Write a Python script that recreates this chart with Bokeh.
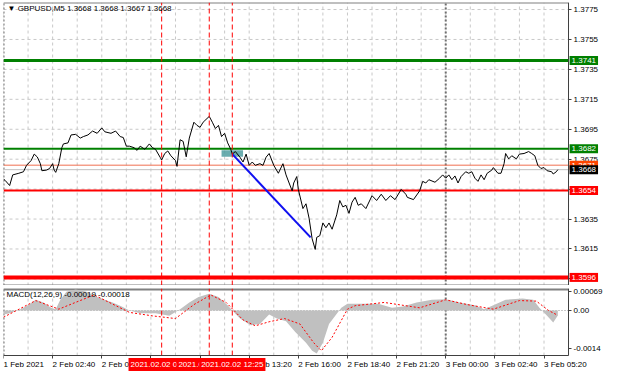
from bokeh.plotting import figure
from bokeh.layouts import column
from bokeh.models import Range1d, Label, FixedTicker, PrintfTickFormatter, LinearAxis
from bokeh.embed import file_html
from bokeh.resources import INLINE

FONT = "Liberation Sans"

# ---------------- data ----------------
title_text = "\u25bc GBPUSD,M5  1.3668 1.3668 1.3667 1.3668"
macd_text = "MACD(12,26,9) -0.00019 -0.00018"

price_bars = [0, 1, 4, 6, 10, 13, 15, 18, 20, 22,
              24, 25, 28, 30, 32, 33, 34, 36, 38, 39,
              42, 44, 47, 50, 52, 55, 58, 61, 64, 66,
              70, 73, 76, 78, 80, 82, 85, 87, 89, 92,
              95, 97, 99, 102, 103, 105, 107, 109, 112, 113,
              115, 117, 119, 121, 124, 126, 128, 130, 134, 136,
              138, 140, 142, 144, 146, 148, 149, 151, 154, 156,
              158, 160, 162, 164, 167, 169, 171, 173, 176, 179,
              182, 184, 186, 188, 189, 191, 192, 195, 197, 199,
              201, 203, 204, 206, 208, 210, 212, 214, 217, 219,
              221, 223, 225, 227, 229, 231, 233, 236, 240, 243,
              246, 249, 252, 255, 259, 262, 263, 267, 271, 273,
              275, 277, 281, 284, 286, 288, 290, 292, 294, 296,
              298, 301, 303, 305, 307, 309, 311, 313, 315, 318,
              319, 322, 324, 326, 327, 329, 331, 334, 336, 339,
              342, 344, 346, 348, 350, 352, 354, 357, 358, 360,
              361]
price_close = [1.36617, 1.36609, 1.36574, 1.36645, 1.36656, 1.36666, 1.36709, 1.36741, 1.36784, 1.36765,
               1.36720, 1.36673, 1.36677, 1.36688, 1.36720, 1.36677, 1.36662, 1.36720, 1.36827, 1.36852,
               1.36859, 1.36912, 1.36916, 1.36891, 1.36901, 1.36912, 1.36938, 1.36923, 1.36959, 1.36933,
               1.36923, 1.36938, 1.36901, 1.36895, 1.36837, 1.36837, 1.36827, 1.36809, 1.36837, 1.36816,
               1.36852, 1.36827, 1.36816, 1.36763, 1.36745, 1.36788, 1.36805, 1.36773, 1.36741, 1.36702,
               1.36880, 1.36869, 1.36766, 1.36891, 1.36997, 1.36976, 1.36963, 1.36997, 1.37036, 1.36997,
               1.36955, 1.36976, 1.36901, 1.36923, 1.36859, 1.36816, 1.36784, 1.36801, 1.36763, 1.36731,
               1.36784, 1.36709, 1.36731, 1.36709, 1.36720, 1.36709, 1.36763, 1.36788, 1.36709, 1.36656,
               1.36720, 1.36645, 1.36591, 1.36538, 1.36591, 1.36634, 1.36548, 1.36420, 1.36452, 1.36356,
               1.36218, 1.36147, 1.36228, 1.36239, 1.36324, 1.36292, 1.36324, 1.36282, 1.36378, 1.36474,
               1.36431, 1.36442, 1.36388, 1.36463, 1.36495, 1.36442, 1.36452, 1.36420, 1.36506, 1.36474,
               1.36516, 1.36474, 1.36506, 1.36480, 1.36548, 1.36516, 1.36495, 1.36480, 1.36538, 1.36602,
               1.36591, 1.36613, 1.36596, 1.36623, 1.36645, 1.36623, 1.36645, 1.36613, 1.36638, 1.36591,
               1.36634, 1.36666, 1.36656, 1.36666, 1.36623, 1.36602, 1.36645, 1.36613, 1.36656, 1.36677,
               1.36694, 1.36656, 1.36656, 1.36720, 1.36788, 1.36752, 1.36773, 1.36752, 1.36784, 1.36788,
               1.36801, 1.36788, 1.36773, 1.36709, 1.36688, 1.36694, 1.36673, 1.36666, 1.36651, 1.36666,
               1.36680]

level_prices = [1.3741, 1.3682, 1.3671, 1.3668, 1.3654, 1.3596]

trade_bars = [149, 200]
trade_prices = [1.36784, 1.36228]
zone_bars = [142, 156]
zone_prices = [1.36766, 1.36809]

hist_bars = [0, 4, 11, 16, 21, 26, 31, 34, 37, 41,
             47, 54, 61, 71, 77, 82, 89, 99, 108, 115,
             121, 127, 134, 140, 146, 149, 154, 161, 167, 173,
             178, 184, 190, 197, 201, 204, 208, 212, 220, 224,
             234, 244, 253, 260, 269, 279, 288, 297, 307, 313,
             319, 327, 338, 345, 349, 354, 358, 361]
hist_vals = [-0.00015, -0.0001, 0.00005, 0.0002, 0.0004, 0.0003, 0.0001, 0.00005, 0.0004, 0.0007,
             0.00078, 0.0007, 0.0005, 0.0003, 0.00015, 0.0, -0.0001, -0.0001, -0.0002, 0.00005,
             0.0003, 0.0005, 0.00062, 0.0005, 0.0002, 0.0, -0.0003, -0.00055, -0.0005, -0.00015,
             -0.0003, -0.0004, -0.0008, -0.0012, -0.0015, -0.0016, -0.0012, -0.0005, 0.0001, 0.00025,
             0.00025, 0.00025, 0.0001, 0.00015, 0.0003, 0.0004, 0.00042, 0.0003, 0.0002, 0.00005,
             0.0002, 0.0004, 0.00045, 0.0004, 0.0001, -0.0002, -0.00045, -0.00019]

signal_bars = [0, 21, 36, 59, 82, 97, 112, 124, 135, 145,
               156, 164, 173, 183, 193, 202, 207, 214, 224, 229,
               248, 271, 288, 302, 319, 336, 347, 355, 361]
signal_vals = [-0.00025, 0.00037, 0.00005, 0.00058, -0.00007, -0.0002, -0.0003, 0.00022, 0.00058, 0.0003,
               -0.00035, -0.00057, -0.00042, -0.0003, -0.0005, -0.0012, -0.0015, -0.001, 0.00005, 0.00018,
               0.0003, 0.0001, 0.0004, 0.00022, 0.00005, 0.00037, 0.00035, 0.0, -0.00018]

price_ticks = [1.3595, 1.3615, 1.3635, 1.3655, 1.3675, 1.3695, 1.3715, 1.3735, 1.3755, 1.3775]
macd_ticks = [-0.0014, 0.0, 0.00069]
macd_tick_labels = ["-0.0014", "0.00", "0.00069"]

time_tick_bars = [0, 32, 64, 96, 128, 160, 192, 224, 256, 288, 320, 352]
time_tick_labels = ["1 Feb 2021", "2 Feb 02:40", "2 Feb 05:20", "2 Feb 08:00", "2 Feb 10:40",
                    "2 Feb 13:20", "2 Feb 16:00", "2 Feb 18:40", "2 Feb 21:20", "3 Feb 00:00",
                    "3 Feb 02:40", "3 Feb 05:20"]

marker_bars = [103, 134, 149]
marker_labels = ["2021.02.02 08:35", "2021.02.02 11:10", "2021.02.02 12:25"]
day_bars = [0, 288]

# ---------------- styles / geometry ----------------
level_line_colors = ["#008000", "#008000", "#f07050", "#c0c0c0", "#ff0000", "#ff0000"]
level_line_widths = [3, 2, 1, 1, 2, 4]
level_box_colors = ["#008000", "#008000", "#ff4500", "#000000", "#ff0000", "#ff0000"]

X_MAX = 368            # right edge of the chart area (axis line)
X_VIEW = 391.4         # includes the price-label strip
PRICE_RANGE = (1.35906, 1.37797)
MACD_PANEL = (-0.00168, 0.00082)
MACD_VIEW = (-0.00231, 0.00082)   # includes the time-label strip
GRID_BARS = list(range(0, X_MAX + 1, 16))
GRID_COLOR = "#c8c8c8"
BORDER = "#808080"
AXIS = "#404040"


def style_axis(ax):
    ax.axis_line_color = AXIS
    ax.major_tick_line_color = AXIS
    ax.minor_tick_line_color = None
    ax.major_tick_in = 0
    ax.major_tick_out = 3
    ax.major_label_standoff = 2
    ax.major_label_text_font = FONT
    ax.major_label_text_font_size = "8px"
    ax.major_label_text_color = "#000000"


xr = Range1d(0, X_VIEW)

common = dict(x_range=xr, frame_width=601, min_border_left=3, min_border_right=0,
              min_border_bottom=0, x_axis_location=None, y_axis_location=None,
              output_backend="svg", toolbar_location=None,
              background_fill_color="white", border_fill_color="white",
              outline_line_color=None)

# ---------------- main price panel ----------------
p = figure(y_range=Range1d(*PRICE_RANGE), frame_height=283, min_border_top=2, **common)
p.grid.visible = False

n = len(GRID_BARS)
p.segment(x0=GRID_BARS, y0=[PRICE_RANGE[0]] * n, x1=GRID_BARS, y1=[PRICE_RANGE[1]] * n,
          line_color=GRID_COLOR, line_dash="3 3", line_width=1)
k = len(price_ticks)
p.segment(x0=[0] * k, y0=price_ticks, x1=[X_MAX] * k, y1=price_ticks,
          line_color=GRID_COLOR, line_dash="3 3", line_width=1)
d = len(day_bars)
p.segment(x0=day_bars, y0=[PRICE_RANGE[0]] * d, x1=day_bars, y1=[PRICE_RANGE[1]] * d,
          line_color="#707070", line_dash="2 2", line_width=2)
# frame borders (top and bottom separator)
p.segment(x0=[0, 0], y0=[PRICE_RANGE[1], PRICE_RANGE[0]], x1=[X_MAX, X_MAX],
          y1=[PRICE_RANGE[1], PRICE_RANGE[0]], line_color=BORDER, line_width=2)

for lv, c, w in zip(level_prices, level_line_colors, level_line_widths):
    p.segment(x0=[0], y0=[lv], x1=[X_MAX], y1=[lv], line_color=c, line_width=w)

p.quad(left=zone_bars[0], right=zone_bars[1], bottom=zone_prices[0], top=zone_prices[1],
       fill_color="#4f9ea0", fill_alpha=0.85, line_color=None)
p.line(price_bars, price_close, line_color="#000000", line_width=1)
p.line(trade_bars, trade_prices, line_color="#1010f0", line_width=2)

mk = len(marker_bars)
p.segment(x0=marker_bars, y0=[PRICE_RANGE[0]] * mk, x1=marker_bars, y1=[PRICE_RANGE[1]] * mk,
          line_color="#ff0000", line_dash="5 3", line_width=1)

pax = LinearAxis(fixed_location=X_MAX, ticker=FixedTicker(ticks=price_ticks),
                 formatter=PrintfTickFormatter(format="%.4f"))
style_axis(pax)
p.add_layout(pax, "right")

for lv, c in zip(level_prices, level_box_colors):
    p.add_layout(Label(x=X_MAX, y=lv, x_offset=1, text="%.4f" % lv, text_align="left",
                       text_baseline="middle", text_font=FONT, text_font_size="8px",
                       text_color="#ffffff", background_fill_color=c, padding=2))

p.add_layout(Label(x=0, y=PRICE_RANGE[1], x_offset=4, y_offset=-6, text=title_text,
                   text_align="left", text_baseline="middle", text_font=FONT,
                   text_font_size="8px", text_color="#000000"))

# ---------------- MACD panel ----------------
m = figure(y_range=Range1d(*MACD_VIEW), frame_height=84, min_border_top=3, **common)
m.grid.visible = False

m.segment(x0=GRID_BARS, y0=[MACD_PANEL[0]] * n, x1=GRID_BARS, y1=[MACD_PANEL[1]] * n,
          line_color=GRID_COLOR, line_dash="3 3", line_width=1)
m.segment(x0=[0], y0=[0.0], x1=[X_MAX], y1=[0.0], line_color="#909090", line_dash="1 2")
m.segment(x0=day_bars, y0=[MACD_PANEL[0]] * d, x1=day_bars, y1=[MACD_PANEL[1]] * d,
          line_color="#707070", line_dash="2 2", line_width=2)
m.segment(x0=[0], y0=[MACD_PANEL[1]], x1=[X_MAX], y1=[MACD_PANEL[1]],
          line_color=BORDER, line_width=4)

m.varea(x=hist_bars, y1=0.0, y2=hist_vals, fill_color="#c0c0c0")
m.line(signal_bars, signal_vals, line_color="#ff0000", line_width=1, line_dash="2 2")

m.segment(x0=marker_bars, y0=[MACD_PANEL[0]] * mk, x1=marker_bars, y1=[MACD_PANEL[1]] * mk,
          line_color="#ff0000", line_dash="5 3", line_width=1)

may = LinearAxis(fixed_location=X_MAX, bounds=MACD_PANEL, ticker=FixedTicker(ticks=macd_ticks),
                 major_label_overrides={t: s for t, s in zip(macd_ticks, macd_tick_labels)})
style_axis(may)
m.add_layout(may, "right")

max_ = LinearAxis(fixed_location=MACD_PANEL[0], bounds=(0, X_MAX),
                  ticker=FixedTicker(ticks=time_tick_bars),
                  major_label_overrides={t: s for t, s in zip(time_tick_bars, time_tick_labels)})
style_axis(max_)
max_.major_label_orientation = -0.0001   # tiny tilt -> left-aligned labels starting at the tick
max_.major_label_standoff = 6
m.add_layout(max_, "below")

for b, t in zip(marker_bars, marker_labels):
    m.add_layout(Label(x=b, y=MACD_PANEL[0], y_offset=-9, text=t, text_align="center",
                       text_baseline="middle", text_font=FONT, text_font_size="8px",
                       text_color="#ffffff", background_fill_color="#ff0000", padding=2))

m.add_layout(Label(x=0, y=MACD_PANEL[1], x_offset=3, y_offset=-6, text=macd_text,
                   text_align="left", text_baseline="middle", text_font=FONT,
                   text_font_size="8px", text_color="#000000"))

layout = column(p, m, spacing=0)
open("out.html", "w").write(file_html(layout, INLINE))
